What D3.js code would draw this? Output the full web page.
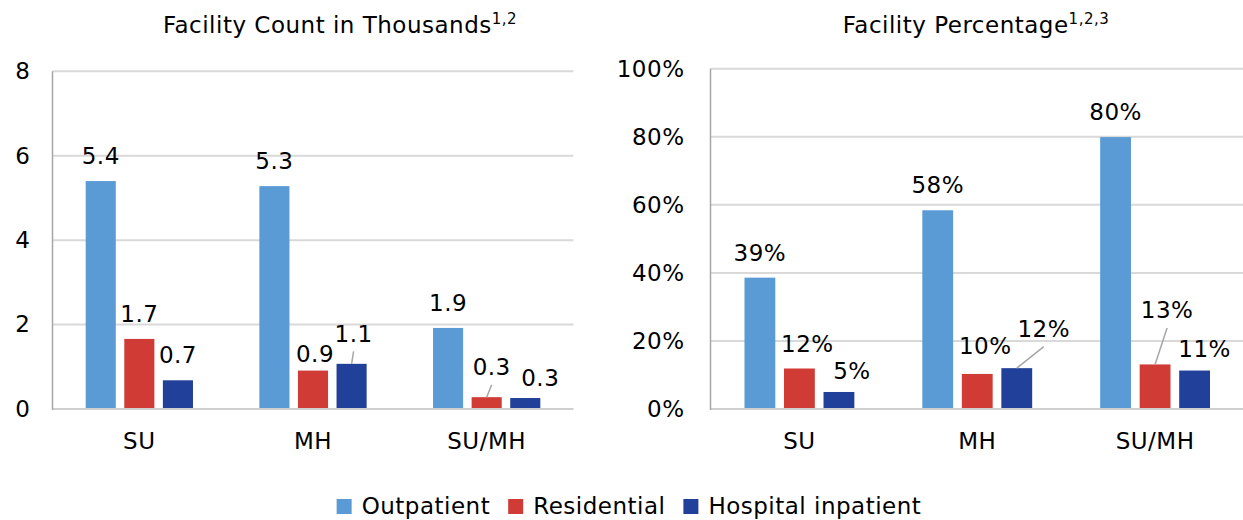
<!DOCTYPE html>
<html>
<head>
<meta charset="utf-8">
<script src="https://cdn.jsdelivr.net/npm/d3@7"></script>
<style>
  body { margin: 0; background: #fff; }
  text { font-family: "DejaVu Sans", Verdana, sans-serif; fill: #000; letter-spacing: 0.5px; }
</style>
</head>
<body>
<div id="chart"></div>
<script>
// Categories and series
const categories = ['SU', 'MH', 'SU/MH'];
const series = ['Outpatient', 'Residential', 'Hospital inpatient'];
const colors = ['#5b9bd5', '#d03b36', '#21409a'];

// Facility count in thousands (one array per series, by category)
const countOutpatient = [5.40, 5.28, 1.92];
const countResidential = [1.66, 0.91, 0.28];
const countInpatient = [0.68, 1.07, 0.26];
const countTicks = [0, 2, 4, 6, 8];

// Facility percentage
const pctOutpatient = [38.6, 58.4, 79.9];
const pctResidential = [11.9, 10.3, 13.1];
const pctInpatient = [5.0, 12.0, 11.3];
const pctTicks = [0, 20, 40, 60, 80, 100];

// Label nudges [dx, dy] per category / series (Excel moved some by hand)
const countNudge = [[[0, 0], [0, 0], [0, 0]], [[0, 0], [2, 8], [2, -5]], [[0, 0], [5, -5], [15, 5]]];
const pctNudge = [[[0, 0], [8, 0], [13, 4]], [[0, 0], [8, -3], [27, -14]], [[0, 0], [12, -29], [10, 3]]];
const countLeaders = [[1, 2], [2, 1]];
const pctLeaders = [[1, 2], [2, 1]];

const width = 1243, height = 520;
const baseY = 409;

const svg = d3.select('#chart')
    .append('svg')
    .attr('width', width)
    .attr('height', height);

function drawPanel(p) {
    const g = svg.append('g');

    const x = d3.scaleBand().domain(categories).range([p.x0, p.x1]);
    const xs = d3.scaleBand().domain(series).range([0, x.bandwidth()])
        .paddingInner(0.22).paddingOuter(0.86);
    const y = d3.scaleLinear().domain([0, p.yMax]).range([baseY, p.yTop]);

    // gridlines
    g.selectAll('.grid')
        .data(p.ticks.slice(1))
        .enter().append('line')
        .attr('x1', p.x0).attr('x2', p.gridEnd)
        .attr('y1', d => y(d)).attr('y2', d => y(d))
        .attr('stroke', '#d9d9d9').attr('stroke-width', 2);

    // y axis labels
    const ya = g.append('g')
        .attr('transform', `translate(${p.x0},0)`)
        .call(d3.axisLeft(y).tickValues(p.ticks).tickSize(0).tickPadding(p.tickPad).tickFormat(p.tickFmt));
    ya.select('.domain').remove();
    ya.selectAll('text').style('font-size', '23px').attr('font-family', null);

    // x axis labels
    const xa = g.append('g')
        .attr('transform', `translate(0,${baseY})`)
        .call(d3.axisBottom(x).tickSize(0).tickPadding(24));
    xa.select('.domain').remove();
    xa.selectAll('text').style('font-size', '23px').attr('font-family', null);

    // bars
    const rows = categories.map((c, i) => series.map((s, j) => ({
        cat: c, ser: s, ci: i, si: j, v: p.values[j][i]
    })));
    const flat = rows.flat();

    g.selectAll('.bar')
        .data(flat)
        .enter().append('rect')
        .attr('x', d => x(d.cat) + xs(d.ser))
        .attr('width', xs.bandwidth())
        .attr('y', d => y(d.v))
        .attr('height', d => baseY - y(d.v))
        .attr('fill', d => colors[d.si]);

    // axis lines
    g.append('line')
        .attr('x1', p.x0).attr('x2', p.gridEnd)
        .attr('y1', baseY).attr('y2', baseY)
        .attr('stroke', '#d0d0d0').attr('stroke-width', 2);
    g.append('line')
        .attr('x1', p.x0).attr('x2', p.x0)
        .attr('y1', p.yTop).attr('y2', baseY + 1)
        .attr('stroke', '#a6a6a6').attr('stroke-width', 1.5);

    // data labels
    const lx = d => x(d.cat) + xs(d.ser) + xs.bandwidth() / 2 + p.nudge[d.ci][d.si][0];
    const ly = d => y(d.v) - 17 + p.nudge[d.ci][d.si][1];

    g.selectAll('.leader')
        .data(flat.filter(d => p.leaders.some(l => l[0] === d.ci && l[1] === d.si)))
        .enter().append('line')
        .attr('x1', d => x(d.cat) + xs(d.ser) + xs.bandwidth() / 2)
        .attr('y1', d => y(d.v))
        .attr('x2', lx)
        .attr('y2', d => ly(d) + 9.5)
        .attr('stroke', '#a6a6a6').attr('stroke-width', 1.5);

    g.selectAll('.lbl')
        .data(flat)
        .enter().append('text')
        .attr('x', lx)
        .attr('y', ly)
        .attr('text-anchor', 'middle')
        .style('font-size', '23px')
        .text(d => p.labelFmt(d.v));

    // title
    const t = g.append('text')
        .attr('x', p.titleX)
        .attr('y', 33)
        .attr('text-anchor', 'middle')
        .style('font-size', '23px')
        .text(p.title);
    t.append('tspan')
        .attr('dy', -9)
        .style('font-size', '15px')
        .text(p.sup);
}

drawPanel({
    x0: 52.5, x1: 573.5, gridEnd: 573.5, yMax: 8, yTop: 71.3,
    ticks: countTicks, tickPad: 22, tickFmt: d3.format('d'),
    values: [countOutpatient, countResidential, countInpatient],
    labelFmt: d3.format('.1f'),
    nudge: countNudge, leaders: countLeaders,
    title: 'Facility Count in Thousands', sup: '1,2', titleX: 340
});

drawPanel({
    x0: 710.5, x1: 1244, gridEnd: 1243, yMax: 100, yTop: 68.7,
    ticks: pctTicks, tickPad: 26, tickFmt: d => d + '%',
    values: [pctOutpatient, pctResidential, pctInpatient],
    labelFmt: d => d3.format('.0f')(d) + '%',
    nudge: pctNudge, leaders: pctLeaders,
    title: 'Facility Percentage', sup: '1,2,3', titleX: 976
});

// Legend
const legend = svg.append('g').attr('transform', 'translate(0,514)');
let lxPos = 0;
const items = legend.selectAll('.item')
    .data(series)
    .enter().append('g');
items.append('rect')
    .attr('y', -15)
    .attr('width', 15)
    .attr('height', 15)
    .attr('fill', (d, i) => colors[i]);
items.append('text')
    .attr('x', 25)
    .style('font-size', '23px')
    .text(d => d);
items.each(function () {
    d3.select(this).attr('transform', `translate(${lxPos},0)`);
    lxPos += 25 + this.querySelector('text').getComputedTextLength() + 18;
});
const legendW = lxPos - 18;
legend.attr('transform', `translate(${629 - legendW / 2},514)`);
</script>
</body>
</html>
